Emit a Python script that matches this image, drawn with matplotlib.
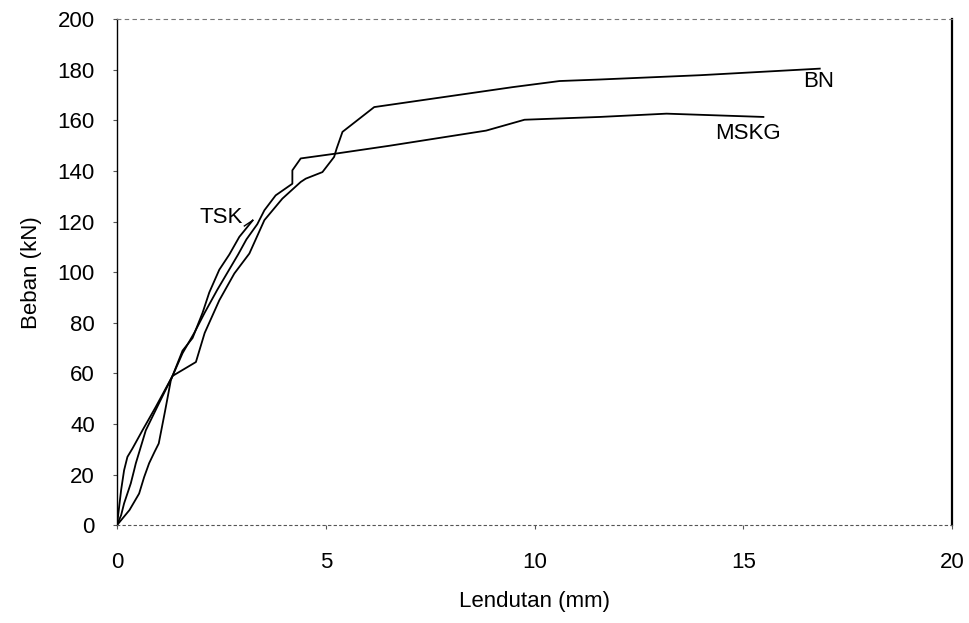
import matplotlib
matplotlib.use('Agg')
from matplotlib import pyplot as plt

plt.rcParams['font.family'] = ['Liberation Sans', 'DejaVu Sans']

# load-deflection data
tsk_x = [0, 0.05, 0.10, 0.17, 0.25, 0.37, 0.61, 0.93, 1.33, 1.57, 1.81, 2.05, 2.21, 2.45, 2.69, 2.93, 3.25]
tsk_y = [0, 7, 14, 21.7, 27, 30.3, 37.5, 46.8, 59, 69, 74, 84, 92, 101, 107, 114, 120.5]

mskg_x = [0, 0.10, 0.17, 0.33, 0.41, 0.45, 0.69, 1.00, 1.33, 1.57, 1.85, 2.10, 2.40, 2.65, 2.90, 3.10,
          3.36, 3.53, 3.80, 4.20, 4.20, 4.40, 5.28, 6.52, 8.84, 9.76, 11.56, 13.16, 15.48]
mskg_y = [0, 4, 8.6, 16.5, 21.7, 24.4, 37.5, 48, 59, 68, 76, 84, 93, 100, 107, 113,
          119, 124.5, 130.4, 135, 140.3, 145, 147, 150, 156, 160.3, 161.4, 162.7, 161.4]

bn_x = [0, 0.15, 0.30, 0.53, 0.65, 0.77, 0.90, 1.00, 1.15, 1.29, 1.33, 1.89, 2.10, 2.45, 2.81, 3.17,
        3.53, 3.96, 4.40, 4.52, 4.92, 5.20, 5.26, 5.40, 6.16, 9.48, 10.60, 11.56, 13.96, 16.83]
bn_y = [0, 3, 6, 12.5, 19, 24.5, 29, 32.3, 45, 57.3, 59, 64.5, 76, 88.9, 99.5, 107.4,
        120.6, 129.1, 135.7, 137, 139.6, 145.6, 148.9, 155.5, 165.3, 173.2, 175.6, 176.2, 177.9, 180.5]

fig = plt.figure(figsize=(9.7, 6.23), dpi=100)
ax = fig.add_axes([0.1206, 0.157, 0.861, 0.812])

ax.plot(tsk_x, tsk_y, color='black', linewidth=1.3)
ax.plot(mskg_x, mskg_y, color='black', linewidth=1.3)
ax.plot(bn_x, bn_y, color='black', linewidth=1.3)

# curve labels
ax.text(2.5, 121.5, 'TSK', fontsize=16, ha='center', va='center')
ax.plot([3.05, 3.25], [118.3, 120.5], color='black', linewidth=1.0)
ax.text(16.81, 175.5, 'BN', fontsize=16, ha='center', va='center')
ax.text(15.1, 154.7, 'MSKG', fontsize=16, ha='center', va='center')

ax.set_xlim(0, 20)
ax.set_ylim(0, 200)
ax.set_xticks([0, 5, 10, 15, 20])
ax.set_yticks(range(0, 201, 20))
ax.tick_params(axis='both', labelsize=16, length=3, width=0.8, color='#555555')
ax.tick_params(axis='y', pad=13)
ax.tick_params(axis='x', pad=16)

ax.set_xlabel('Lendutan (mm)', fontsize=16, labelpad=13)
ax.set_ylabel('Beban (kN)', fontsize=16, labelpad=11)

# scanned-looking frame
ax.spines['left'].set_linewidth(1.0)
ax.spines['right'].set_linewidth(1.6)
ax.spines['top'].set_color('#777777')
ax.spines['top'].set_linestyle((0, (3, 4)))
ax.spines['top'].set_linewidth(0.8)
ax.spines['bottom'].set_color('#555555')
ax.spines['bottom'].set_linestyle((0, (2, 3)))
ax.spines['bottom'].set_linewidth(0.8)

fig.savefig('out.png', dpi=100)
